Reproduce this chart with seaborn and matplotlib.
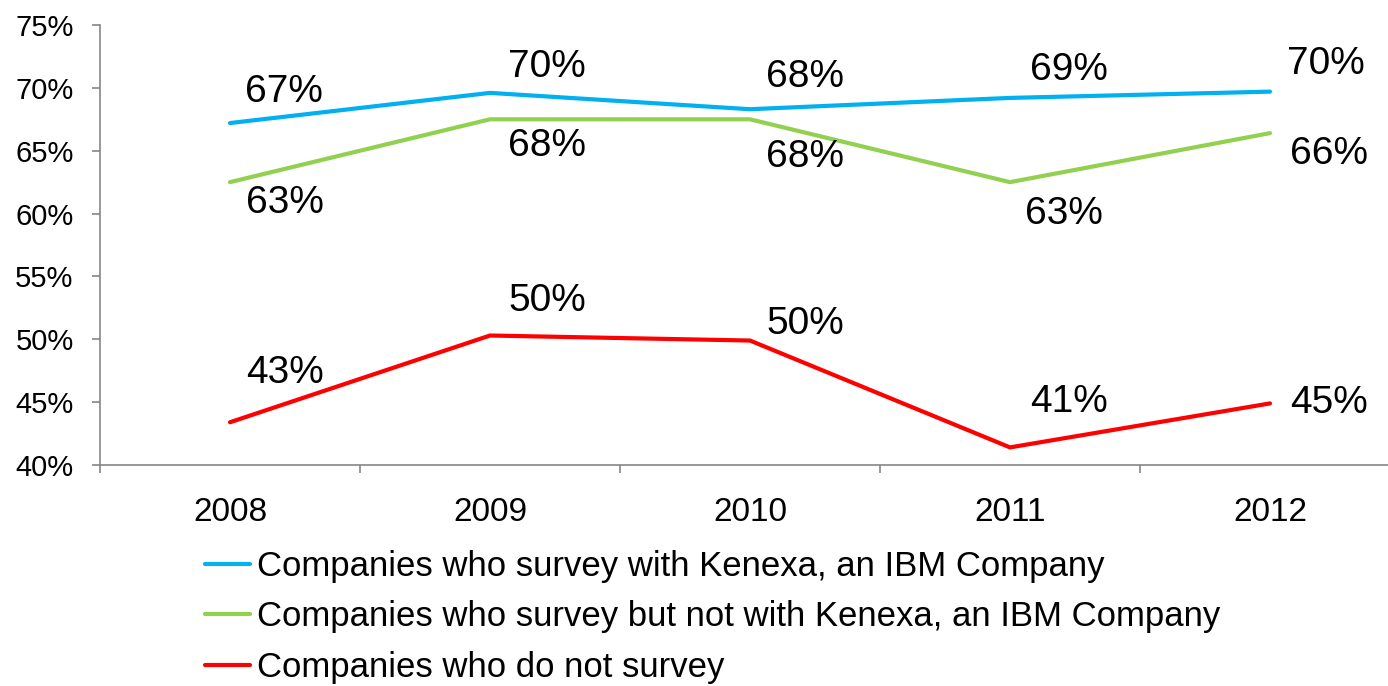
import matplotlib
matplotlib.use("Agg")
import matplotlib.pyplot as plt
import seaborn as sns
import pandas as pd
import numpy as np
from matplotlib.ticker import FixedLocator, FuncFormatter

# ---- data ----
years = ["2008", "2009", "2010", "2011", "2012"]
series_names = [
    "Companies who survey with Kenexa, an IBM Company",
    "Companies who survey but not with Kenexa, an IBM Company",
    "Companies who do not survey",
]
kenexa = [67.2, 69.6, 68.3, 69.2, 69.7]
survey_other = [62.5, 67.5, 67.5, 62.5, 66.4]
no_survey = [43.4, 50.3, 49.9, 41.4, 44.9]
y_ticks = [40, 45, 50, 55, 60, 65, 70, 75]

colors = ["#00B0F0", "#92D050", "#FF0000"]

# label offsets (pixels, dx, dy up-positive) per series
label_offsets = [
    [(15, 31), (18, 26), (16, 32), (20, 28), (17, 28)],
    [(16, -21), (18, -27), (16, -38), (15, -32), (20, -21)],
    [(16, 49), (18, 35), (16, 17), (20, 45), (20, 0)],
]

rows = []
for name, vals in zip(series_names, [kenexa, survey_other, no_survey]):
    for y, v in zip(years, vals):
        rows.append({"Year": y, "Value": v, "Series": name})
df = pd.DataFrame(rows)

sns.set_style("white")
plt.rcParams["font.family"] = ["Liberation Sans", "DejaVu Sans"]

dpi = 100
fig = plt.figure(figsize=(13.88, 6.86), dpi=dpi)
W, H = 1388, 686
ax_left, ax_right, ax_top, ax_bottom = 100, 1400, 25, 465
ax = fig.add_axes([ax_left / W, 1 - ax_bottom / H, (ax_right - ax_left) / W, (ax_bottom - ax_top) / H])

sns.lineplot(data=df, x="Year", y="Value", hue="Series", hue_order=series_names,
             palette=colors, linewidth=3, ax=ax, sort=False)

ax.set_xlim(-0.5, len(years) - 0.5)
ax.set_ylim(40, 75)

# data labels
px2pt = 72.0 / dpi
for si, vals in enumerate([kenexa, survey_other, no_survey]):
    for i, v in enumerate(vals):
        dx, dy = label_offsets[si][i]
        ax.annotate(f"{int(v + 0.5)}%", xy=(i, v), xytext=(dx * px2pt, dy * px2pt),
                    textcoords="offset points", ha="left", va="center",
                    fontsize=28, color="black")

gray = "#868686"
for s in ["top", "right"]:
    ax.spines[s].set_visible(False)
for s in ["left", "bottom"]:
    ax.spines[s].set_color(gray)
    ax.spines[s].set_linewidth(1.2)

ax.yaxis.set_major_locator(FixedLocator(y_ticks))
ax.yaxis.set_major_formatter(FuncFormatter(lambda v, p: f"{int(v)}%"))
ax.tick_params(axis="y", which="major", left=True, length=6, width=1.2, color=gray,
               labelsize=21, pad=13, labelcolor="black")

ax.set_xticks(range(len(years)))
ax.set_xticklabels(years)
ax.set_xticks(np.arange(-0.5, len(years), 1.0), minor=True)
ax.tick_params(axis="x", which="major", bottom=False, length=0, labelsize=24, pad=23, labelcolor="black")
ax.tick_params(axis="x", which="minor", bottom=True, length=6, width=1.2, color=gray, direction="out")

ax.set_xlabel("")
ax.set_ylabel("")
ax.grid(False)

handles, labels = ax.get_legend_handles_labels()
ax.legend_.remove()
fig.legend(handles, labels, loc="upper left", bbox_to_anchor=(205 / W, 1 - 550 / H),
           frameon=False, fontsize=25, handlelength=1.3, handletextpad=0.2,
           labelspacing=0.5, borderaxespad=0, borderpad=0, labelcolor="black")

fig.savefig("out.png", dpi=dpi)
